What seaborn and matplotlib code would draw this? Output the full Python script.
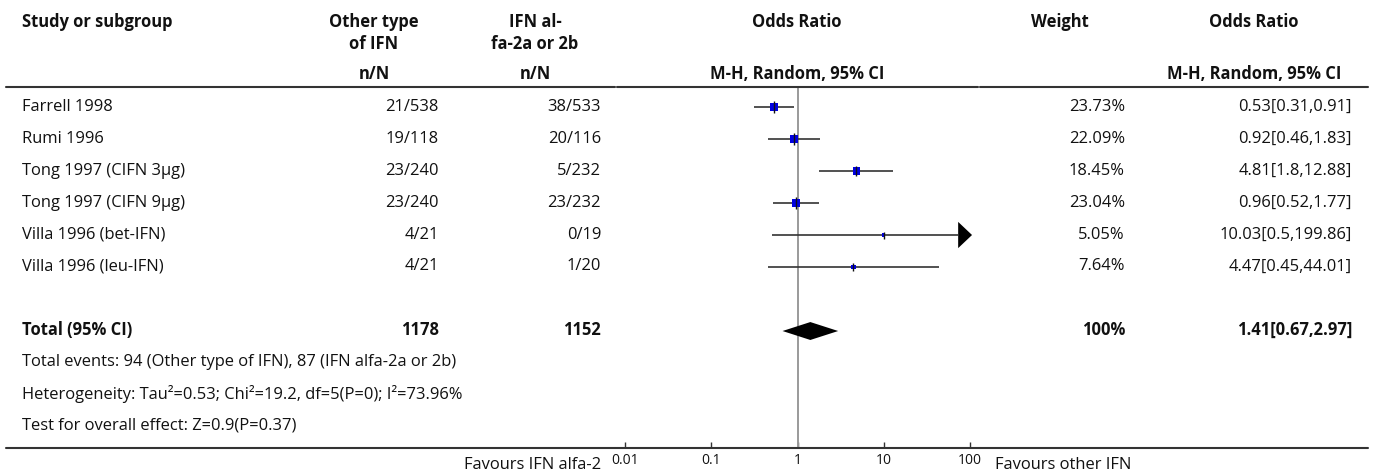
import matplotlib
matplotlib.use("Agg")
import matplotlib.pyplot as plt
import seaborn as sns
import numpy as np
import pandas as pd
from matplotlib.lines import Line2D
from matplotlib.patches import Polygon

# ---------------- data ----------------
studies = ["Farrell 1998", "Rumi 1996", "Tong 1997 (CIFN 3µg)", "Tong 1997 (CIFN 9µg)",
           "Villa 1996 (bet-IFN)", "Villa 1996 (leu-IFN)"]
other_nN = ["21/538", "19/118", "23/240", "23/240", "4/21", "4/21"]
alfa_nN = ["38/533", "20/116", "5/232", "23/232", "0/19", "1/20"]
weights = [23.73, 22.09, 18.45, 23.04, 5.05, 7.64]
or_est = [0.53, 0.92, 4.81, 0.96, 10.03, 4.47]
ci_low = [0.31, 0.46, 1.8, 0.52, 0.5, 0.45]
ci_high = [0.91, 1.83, 12.88, 1.77, 199.86, 44.01]

total_label = "Total (95% CI)"
total_other = "1178"
total_alfa = "1152"
total_weight = "100%"
total_or, total_low, total_high = 1.41, 0.67, 2.97

footer_lines = [
    "Total events: 94 (Other type of IFN), 87 (IFN alfa-2a or 2b)",
    "Heterogeneity: Tau²=0.53; Chi²=19.2, df=5(P=0); I²=73.96%",
    "Test for overall effect: Z=0.9(P=0.37)",
]
x_ticks = [0.01, 0.1, 1, 10, 100]
x_tick_labels = ["0.01", "0.1", "1", "10", "100"]
favours_left = "Favours IFN alfa-2"
favours_right = "Favours other IFN"

# ---------------- style ----------------
W, H = 1375, 475
sns.set_theme(style="white")
plt.rcParams["font.family"] = ["Open Sans", "DejaVu Sans"]
TXT = "#111111"
LINE = "#333333"
FS = 11.9

fig = plt.figure(figsize=(W / 100, H / 100), dpi=100)


def fx(x):
    return x / W


def fy(y):
    return 1 - y / H


def ftext(x, y, s, ha="left", bold=False, size=FS, color=TXT):
    fig.text(fx(x), fy(y), s, ha=ha, va="center", fontsize=size,
             fontweight="bold" if bold else "normal", color=color)


# ---------------- forest axes ----------------
ax_l, ax_r, ax_t, ax_b = 616, 979, 87, 447.5
ax = fig.add_axes([fx(ax_l), fy(ax_b), (ax_r - ax_l) / W, (ax_b - ax_t) / H])
ax.set_xscale("log")
ax.set_xlim(10 ** -2.11, 10 ** 2.11)
ax.set_ylim(10.64, -0.625)
ax.patch.set_alpha(0)
for sp in ["top", "right", "left"]:
    ax.spines[sp].set_visible(False)
ax.spines["bottom"].set_color(LINE)
ax.spines["bottom"].set_linewidth(1.5)
ax.set_yticks([])
ax.set_xticks(x_ticks)
ax.set_xticklabels(x_tick_labels)
ax.xaxis.set_minor_locator(matplotlib.ticker.NullLocator())
ax.tick_params(axis="x", direction="in", length=4, width=1, color=LINE,
               labelsize=10, labelcolor=TXT, pad=4, bottom=True)

rows = np.arange(len(studies))

# reference line at OR=1, drawn per row band with small gaps
bounds = [-0.625] + [i + 0.5 for i in range(10)] + [10.64]
for lo, hi in zip(bounds[:-1], bounds[1:]):
    ax.vlines(1, lo + 0.012, hi - 0.012, color="#9a9a9a", lw=1.4, zorder=1)

# confidence intervals
xmax = ax.get_xlim()[1]
arrow_tip = xmax * 0.83
arrow_base = arrow_tip / 1.45
for r, lo, hi in zip(rows, ci_low, ci_high):
    hi_draw = min(hi, arrow_base) if hi > xmax else hi
    ax.hlines(r, lo, hi_draw, color=LINE, lw=1.2, zorder=2)
    if hi > xmax:
        ax.add_patch(Polygon([(arrow_base, r - 0.41), (arrow_tip, r), (arrow_base, r + 0.41)],
                             closed=True, color="black", lw=0, zorder=3))

df = pd.DataFrame({"or": or_est, "row": rows, "w": weights})
smin, smax = 6.5, 36
sns.scatterplot(data=df, x="or", y="row", size="w", sizes=(smin, smax),
                size_norm=(min(weights), max(weights)), marker="s",
                color="#0000e0", linewidth=0, legend=False, ax=ax, zorder=4)
side_pt = np.sqrt(smin + (np.array(weights) - min(weights)) /
                  (max(weights) - min(weights)) * (smax - smin))
ax.scatter(or_est, rows, marker="|", s=(side_pt + 2.5) ** 2, c="#111111",
           linewidths=1.0, zorder=5)
ax.set_xlabel("")
ax.set_ylabel("")

# pooled diamond
total_row = 7
ax.add_patch(Polygon([(total_low, total_row), (total_or, total_row - 0.28),
                      (total_high, total_row), (total_or, total_row + 0.28)],
                     closed=True, color="black", lw=0, zorder=4))

# ---------------- table text ----------------
ftext(22, 22, "Study or subgroup", bold=True)
ftext(374, 22, "Other type", ha="center", bold=True)
ftext(374, 44, "of IFN", ha="center", bold=True)
ftext(374, 74, "n/N", ha="center", bold=True)
ftext(535, 22, "IFN al-", ha="center", bold=True)
ftext(535, 44, "fa-2a or 2b", ha="center", bold=True)
ftext(535, 74, "n/N", ha="center", bold=True)
ftext(797, 22, "Odds Ratio", ha="center", bold=True)
ftext(797, 74, "M-H, Random, 95% CI", ha="center", bold=True)
ftext(1060, 22, "Weight", ha="center", bold=True)
ftext(1254, 22, "Odds Ratio", ha="center", bold=True)
ftext(1254, 74, "M-H, Random, 95% CI", ha="center", bold=True)

# header rule and bottom rule (the axis spine forms the middle of the bottom rule)
for a, b in ((6, 615), (617, 978), (980, 1368)):
    fig.add_artist(Line2D([fx(a), fx(b)], [fy(87), fy(87)], color=LINE, lw=1.5))
for a, b in ((6, 615), (980, 1368)):
    fig.add_artist(Line2D([fx(a), fx(b)], [fy(447.5), fy(447.5)], color=LINE, lw=1.5))

row_y0, row_dy = 107, 31.9
for i, (s, o, a, w, e, lo, hi) in enumerate(zip(studies, other_nN, alfa_nN, weights,
                                                 or_est, ci_low, ci_high)):
    y = row_y0 + i * row_dy
    ftext(22, y, s)
    ftext(439, y, o, ha="right")
    ftext(601, y, a, ha="right")
    ftext(1125, y, f"{w:g}%", ha="right")
    ftext(1352, y, f"{e:g}[{lo:g},{hi:g}]", ha="right")

ty = row_y0 + total_row * row_dy
ftext(22, ty, total_label, bold=True)
ftext(439, ty, total_other, ha="right", bold=True)
ftext(601, ty, total_alfa, ha="right", bold=True)
ftext(1125, ty, total_weight, ha="right", bold=True)
ftext(1352, ty, f"{total_or:g}[{total_low:g},{total_high:g}]", ha="right", bold=True)

for j, line in enumerate(footer_lines):
    ftext(22, ty + (j + 1) * row_dy, line)

ftext(601, 465, favours_left, ha="right")
ftext(995, 465, favours_right, ha="left")

fig.savefig("out.png", dpi=100)
